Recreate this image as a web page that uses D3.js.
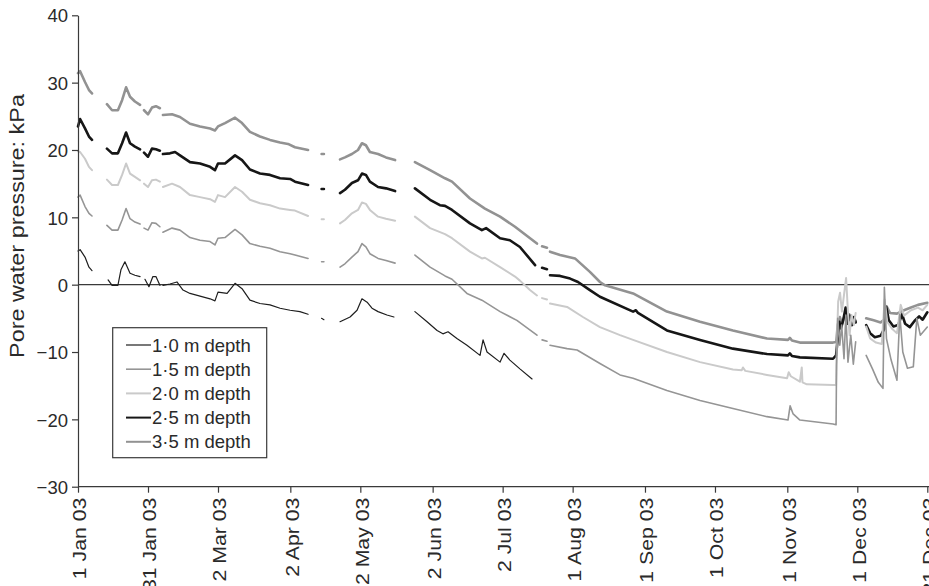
<!DOCTYPE html>
<html><head><meta charset="utf-8">
<script src="https://cdn.jsdelivr.net/npm/d3@7"></script>
<style>
html,body{margin:0;padding:0;background:#fff;}
svg text{font-family:"Liberation Sans",Arial,sans-serif;fill:#2a2a2a;}
</style></head>
<body><svg id="c" width="929" height="586"></svg>
<script>
// ---- data (day of year 2003, pore water pressure kPa); null = data gap ----
const tickDays = [0,30,60,91,121,152,182,212,243,273,304,334,364];
const tickLabels = ["1 Jan 03","31 Jan 03","2 Mar 03","2 Apr 03","2 May 03","2 Jun 03","2 Jul 03","1 Aug 03","1 Sep 03","1 Oct 03","1 Nov 03","1 Dec 03","31 Dec 03"];
const yTicks = [-30,-20,-10,0,10,20,30,40];
const seriesNames = ["1\u00B70 m depth","1\u00B75 m depth","2\u00B70 m depth","2\u00B75 m depth","3\u00B75 m depth"];

const s10 = [[0,5],[0.9,5.2],[3,4.1],[4.7,2.6],[6,2.1],null,
[12.9,0.7],[14.6,-0.1],[17.1,-0.1],[18.4,2.2],[20.1,3.4],[22.3,1.7],[24.4,1.4],[26.6,1.2],null,
[28.7,0.8],[30.4,-0.3],[32.1,1.2],[33.4,1.2],[35.1,-0.1],null,
[36.4,-0.1],[39.4,0.1],[42.4,0.4],[45,-0.8],[48,-1.3],[52.3,-1.7],[56.6,-2.1],[58.7,-2.4],[60,-1.1],[63.9,-1.3],[67.3,0.2],[70.3,-0.6],[73.7,-2.3],[78,-2.8],[82.3,-3.0],[86.6,-3.5],[90.9,-3.8],[95.1,-4.0],[98.6,-4.4],null,
[104.4,-5.0],[105.4,-5.2],null,
[112.3,-5.5],[116.6,-4.8],[119.6,-3.8],[121.7,-2.1],[123.9,-2.6],[126,-3.5],[128.6,-4.0],[132.4,-4.5],[135.4,-4.8],null,
[144.4,-4.0],[149.6,-5.5],[153.9,-6.8],[156.4,-7.3],[158.6,-7.0],[162.4,-8.0],[166.7,-9.0],[172.3,-10.5],[173.6,-8.2],[175.3,-10.0],[180.9,-11.5],[182.6,-10.2],[185.1,-11.2],[189.4,-12.5],[194.6,-14.0]];

const s15 = [[0,13],[0.9,13.3],[3,11.6],[4.7,10.6],[6,10.2],null,
[12.4,8.8],[14.6,8.1],[17.1,8.1],[18.9,9.6],[20.6,11.3],[22.3,9.8],[24.4,9.3],[26.6,9],null,
[28.3,8.4],[30,8.1],[31.7,9.2],[33.4,9.1],[35.1,8.6],null,
[36.4,7.8],[40.3,8.4],[43.7,8.1],[48,7],[52.3,6.6],[56.6,6.4],[58.7,5.9],[60,6.9],[63,7],[67.3,8.2],[70.3,7.4],[73.7,6.1],[78,5.7],[82.3,5.4],[86.6,4.9],[90.9,4.6],[93,4.4],[98.6,3.9],null,
[104.4,3.4],[105.4,3.4],null,
[112.3,2.6],[114.4,3.1],[117.4,4.1],[120,4.9],[121.7,6.1],[123.4,5.6],[125.1,4.6],[128.6,3.9],[132,3.6],[135.9,3.2],null,
[144.4,4.4],[150.9,2.6],[157.3,1.3],[160.3,0.8],[166.7,-1.3],[173.1,-2.3],[180.9,-4.0],[188.1,-5.3],[196.7,-7.5],null,
[198.9,-8.2],[201,-8.4],null,
[202.3,-9.0],[209.6,-9.5],[213.9,-9.7],[223.7,-11.7],[232.3,-13.4],[237.9,-13.9],[252.4,-15.7],[266.6,-17.2],[280.7,-18.4],[295.3,-19.6],[304.3,-20.1],[305.2,-18.0],[306.5,-19.2],[309.4,-20.1],[323.6,-20.7],[324.9,-20.8],
[325.1,-12],[325.6,-5],[326.5,-9],[327.3,-6],[328.3,-11],[329.1,-4.5],[330,-11.5],[331.2,-7.5],[332.3,-11.8],[333.3,-8.5],null,
[337.8,-10.5],[340.5,-12.5],[343,-14.5],[345,-15.4],[345.6,-0.4],[346.5,-8],[348.5,-11.2],[351,-14.2],[352.2,-4.4],[353.5,-10],[355.5,-12.4],[358,-12.2],[359.5,-5.0],[361,-7.5],[364,-6.3]];

const s20 = [[0,19.8],[0.9,19.7],[3,18.7],[4.7,17.5],[6,17],null,
[12.4,15.6],[14.6,14.8],[17.1,14.8],[18.9,16.3],[20.6,18],[22.3,16.5],[24.4,16],[26.6,15.5],null,
[28.3,15],[30,14.5],[31.7,15.5],[33.4,15.6],[35.1,15.3],null,
[36.4,14.5],[40.3,15],[43.7,14.5],[48,13.3],[52.3,13],[56.6,12.7],[58.7,12.3],[60,13.3],[63,13],[67.3,14.5],[70.3,13.8],[73.7,12.6],[78,12.1],[82.3,11.8],[86.6,11.3],[90.9,11.1],[93,11],[98.6,10.2],null,
[104.4,9.7],[105.4,9.7],null,
[112.3,9.1],[114.4,9.6],[117.4,10.6],[120,11.1],[121.7,12.2],[123.4,12],[125.1,11.1],[128.6,10.1],[132,9.8],[135.9,9.5],null,
[144.4,10.1],[150.9,8.4],[157.3,7.5],[160.3,6.9],[168,4.9],[173.1,3.9],[174.4,4.0],[180.9,2.6],[187.3,1.2],[189.4,0.6],[193.7,-0.8],[196.7,-1.6],null,
[198.9,-2.0],[201,-2.2],null,
[202.3,-2.8],[209.6,-3.3],[216.4,-4.8],[223.7,-6.3],[232.3,-7.5],[237.9,-8.2],[252.4,-10.0],[266.6,-11.5],[280.7,-12.6],[284.5,-12.7],[285,-12.3],[286,-12.8],[295.3,-13.4],[303.9,-13.9],[304.6,-13.0],[305.5,-13.6],[309.4,-14.4],[310.2,-12.3],[310.5,-14.5],[312.4,-14.8],[323.6,-14.9],[324.9,-14.9],
[325.3,-8],[325.8,-2.5],[326.6,-1.2],[327.4,-4.0],[328.3,-1.5],[329.2,1.0],[329.9,-3.5],[330.7,-7.5],[331.5,-4.5],[332.5,-6],[333.3,-4.2],null,
[337.8,-6.2],[339.5,-8.0],[342,-8.6],[344.5,-8.8],[345.7,-2.2],[346.8,-5.5],[349,-6.6],[351,-7.2],[352.6,-3.0],[354,-4.6],[357,-3.8],[360,-3.4],[362,-3.8],[364,-3.0]];

const s25 = [[0,23.5],[0.9,24.6],[3,23.2],[4.7,22],[6,21.5],null,
[12.4,20.2],[14.6,19.5],[17.1,19.5],[18.9,21],[20.6,22.6],[22.3,21],[24.4,20.5],[26.6,20.1],null,
[28.3,19.6],[30,19],[31.7,20.2],[33.4,20.1],[35.1,19.9],null,
[36.4,19.4],[39.4,19.5],[41.6,19.7],[43.7,19.2],[48,18.2],[52.3,18],[56.6,17.5],[58.7,17],[60,18],[63,18],[67.3,19.2],[70.3,18.5],[73.7,17.1],[78,16.5],[82.3,16.3],[86.6,15.8],[90.9,15.7],[93,15.3],[98.6,14.8],null,
[104.4,14.2],[105.4,14.2],null,
[112.3,13.6],[114.4,14.1],[117.4,15.1],[120,15.5],[121.7,16.5],[123.4,16.3],[125.1,15.3],[128.6,14.5],[132,14.3],[135.9,13.9],null,
[144.4,14.3],[150.9,12.6],[155.1,11.8],[157.3,11.7],[160.3,11.1],[168,9.1],[173.1,8.1],[174.9,8.4],[180.9,6.9],[185.1,6.6],[189.4,5.6],[195.9,2.9],null,
[198.9,2.5],[201,2.3],null,
[202.3,1.4],[206.6,1.3],[210.9,0.9],[214.3,0.4],[219.4,-0.8],[223.7,-1.8],[237.9,-4.0],[239.1,-3.8],[240,-4.2],[252.4,-6.8],[266.6,-8.2],[280.7,-9.5],[295.3,-10.3],[304.3,-10.5],[305.1,-10.2],[306,-10.6],[309.4,-10.8],[323.6,-11.0],[324.9,-10.5],
[325.6,-8.0],[326.3,-5.5],[327,-6.5],[328,-5.2],[329,-3.4],[329.8,-5.8],[330.8,-4.6],[331.8,-6.0],[332.6,-4.8],[333.3,-5.6],null,
[337.8,-6.0],[339.5,-7.2],[341.5,-7.8],[344,-7.6],[345.5,-6.6],[346.4,-3.3],[347.5,-5.3],[349.5,-6.2],[351.5,-6.0],[353.2,-4.4],[354.5,-5.8],[356.5,-6.3],[358.5,-5.4],[360.5,-4.7],[362,-5.2],[364,-4.1]];

const s35 = [[0,31.4],[0.9,31.7],[3,30.1],[4.7,28.9],[6,28.4],null,
[12.4,26.8],[14.6,25.9],[17.1,25.9],[18.9,27.4],[20.6,29.3],[22.3,27.9],[24.4,27.2],[26.6,26.7],null,
[28.3,25.9],[30,25.3],[31.7,26.3],[33.4,26.5],[35.1,26.2],null,
[36.4,25.2],[40.3,25.3],[43.7,24.9],[48,23.9],[52.3,23.5],[56.6,23.2],[58.7,22.9],[60,23.5],[63,24],[67.3,24.8],[70.3,24],[73.7,22.7],[78,22],[82.3,21.5],[86.6,21.1],[90,20.9],[93,20.4],[98.6,20],null,
[104.4,19.4],[105.4,19.4],null,
[112.3,18.6],[114.4,18.9],[117.4,19.4],[120,20],[121.7,21],[123.4,20.7],[125.1,19.7],[128.6,19.4],[132,18.9],[135.9,18.5],null,
[144.4,18.2],[150.9,17],[157.3,15.8],[160.3,15.3],[168,12.8],[174.4,11.3],[180.9,10.1],[187.3,8.6],[196.7,6.1],null,
[198.9,5.7],[201,5.5],null,
[202.3,4.9],[206.6,4.4],[213,3.9],[219.4,1.9],[223.7,0.4],[225.9,-0.1],[237.9,-1.3],[252.4,-4.0],[266.6,-5.5],[280.7,-6.8],[295.3,-8.0],[304.3,-8.2],[305.1,-7.9],[306,-8.3],[309.4,-8.6],[323.6,-8.6],[325,-8.5],
[325.6,-6.0],[326.5,-4.8],[327.5,-5.8],[328.6,-4.6],[329.5,-5.2],[330.5,-4.4],[331.5,-6.0],[332.5,-5.0],[333.3,-5.5],null,
[337.8,-5.0],[341,-5.3],[344,-5.6],[345.5,-5.2],[346.5,-3.2],[348,-4.2],[351,-4.3],[354,-3.8],[357,-3.4],[360,-3.0],[364,-2.7]];

const seriesData = [s10, s15, s20, s25, s35];
const seriesColors = ["#1e1e1e","#959595","#cacaca","#161616","#929292"];
const seriesWidths = [1.2, 1.6, 2.0, 2.6, 2.6];

// ---- drawing ----
const svg = d3.select("#c");
const x = d3.scaleLinear().domain([0,364]).range([78, 927.3]);
const y = d3.scaleLinear().domain([-30,40]).range([486.7, 15.3]);
const axisColor = "#3a3a3a";

// zero line
svg.append("line").attr("x1", x(0)).attr("x2", 929).attr("y1", y(0)).attr("y2", y(0))
  .attr("stroke", axisColor).attr("stroke-width", 1.2);

// series (draw order so that dark lines stay visible)
const line = d3.line().defined(d => d !== null).x(d => x(d[0])).y(d => y(d[1]));
const order = [4,3,2,1,0];
order.forEach(i => {
  svg.append("path").datum(seriesData[i]).attr("d", line)
    .attr("fill","none").attr("stroke", seriesColors[i])
    .attr("stroke-width", seriesWidths[i]).attr("stroke-linejoin","round").attr("stroke-linecap","round");
});

// y axis
const yAxis = d3.axisLeft(y).tickValues(yTicks).tickSize(6).tickSizeOuter(0)
  .tickFormat(d => d < 0 ? "\u2212" + Math.abs(d) : String(d));
const gy = svg.append("g").attr("transform", `translate(${x(0)},0)`).call(yAxis);
gy.selectAll("path,line").attr("stroke", axisColor).attr("stroke-width", 1.2);
gy.selectAll("text").attr("font-size", 18.5).attr("x", -10).attr("dy","0.36em").attr("fill","#2a2a2a");

// x axis at bottom
const xAxis = d3.axisBottom(x).tickValues(tickDays).tickSize(6).tickSizeOuter(0)
  .tickFormat((d,i) => tickLabels[i]);
const gx = svg.append("g").attr("transform", `translate(0,${y(-30)})`).call(xAxis);
gx.select(".domain").attr("d", `M${x(0)},0H929`);
gx.selectAll("path,line").attr("stroke", axisColor).attr("stroke-width", 1.2);
gx.selectAll("text").attr("font-size", 18).attr("y", 0).attr("dy","0.35em")
  .attr("text-anchor","end")
  .attr("transform", "translate(1.5,11) scale(1,1.18) rotate(-90)");

// y label
svg.append("text").attr("font-size", 20).attr("text-anchor","middle")
  .attr("transform", "translate(24,226) scale(1,1.17) rotate(-90)")
  .text("Pore water pressure: kPa");

// legend
const lg = svg.append("g");
lg.append("rect").attr("x",112.7).attr("y",327.7).attr("width",154).attr("height",130)
  .attr("fill","#fff").attr("stroke",axisColor).attr("stroke-width",1.2);
seriesNames.forEach((n,i) => {
  const yy = 345 + i*24.2;
  lg.append("line").attr("x1",126).attr("x2",151).attr("y1",yy).attr("y2",yy)
    .attr("stroke", seriesColors[i]).attr("stroke-width", Math.min(seriesWidths[i],2));
  lg.append("text").attr("x",152).attr("y",yy).attr("dy","0.36em").attr("font-size",18.5).text(n);
});
</script></body></html>
